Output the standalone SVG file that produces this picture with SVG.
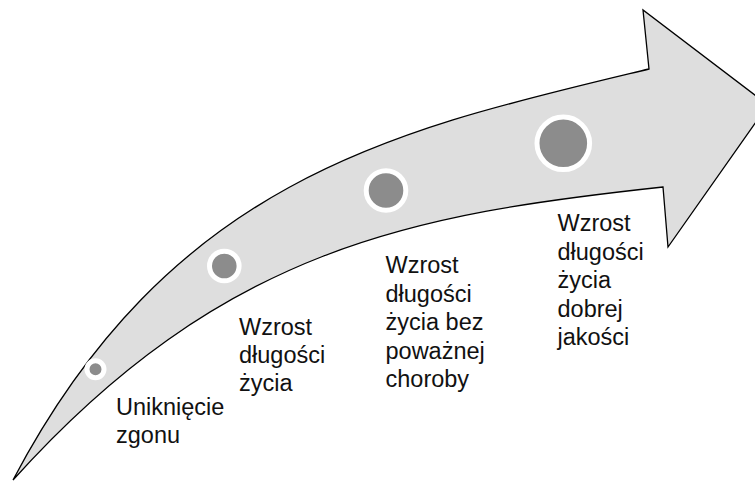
<svg xmlns="http://www.w3.org/2000/svg" width="755" height="481" viewBox="0 0 755 481">
  <style>
    .arrow { fill: #dedede; stroke: #000000; stroke-width: 1.3; stroke-linejoin: miter; }
    .dot { fill: #8c8c8c; stroke: #ffffff; stroke-width: 5; }
    .label { font-family: "Liberation Sans", Arial, sans-serif; font-size: 23.5px; fill: #111111; }
  </style>
  <rect width="755" height="481" fill="#ffffff"/>
  <g id="arrow">
    <path class="arrow" d="M13,480 C173,176 399,129 649,69 L643,10 L768,105 L668,247 L663,187 C413,214 223,247 13,480 Z"/>
  </g>
  <g id="stage1">
    <circle class="dot" cx="95.5" cy="369.3" r="8.5"/>
    <text class="label" x="116" y="415"><tspan x="116">Uniknięcie</tspan><tspan x="116" dy="28">zgonu</tspan></text>
  </g>
  <g id="stage2">
    <circle class="dot" cx="224.3" cy="266" r="14.8"/>
    <text class="label" x="239" y="335"><tspan x="239">Wzrost</tspan><tspan x="239" dy="28">długości</tspan><tspan x="239" dy="28">życia</tspan></text>
  </g>
  <g id="stage3">
    <circle class="dot" cx="386" cy="190.5" r="19.8"/>
    <text class="label" x="385.5" y="273"><tspan x="385.5">Wzrost</tspan><tspan x="385.5" dy="28.6">długości</tspan><tspan x="385.5" dy="28.6">życia bez</tspan><tspan x="385.5" dy="28.6">poważnej</tspan><tspan x="385.5" dy="28.6">choroby</tspan></text>
  </g>
  <g id="stage4">
    <circle class="dot" cx="563.3" cy="143.3" r="26.3"/>
    <text class="label" x="557.5" y="231"><tspan x="557.5">Wzrost</tspan><tspan x="557.5" dy="28.5">długości</tspan><tspan x="557.5" dy="28.5">życia</tspan><tspan x="557.5" dy="28.5">dobrej</tspan><tspan x="557.5" dy="28.5">jakości</tspan></text>
  </g>
</svg>
